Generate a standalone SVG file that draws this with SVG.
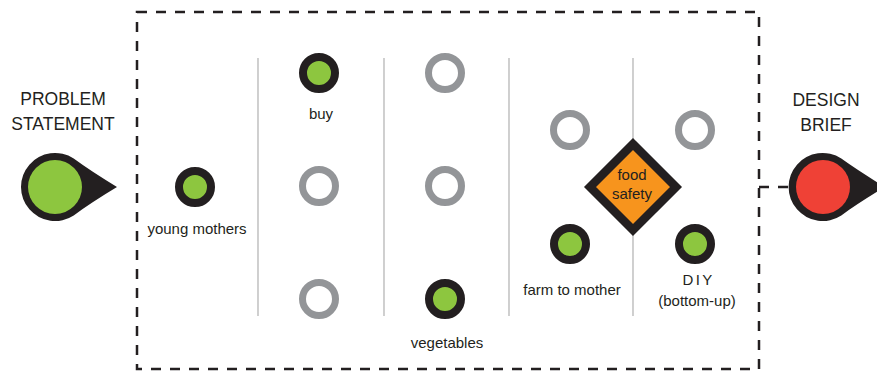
<svg xmlns="http://www.w3.org/2000/svg" width="877" height="372" viewBox="0 0 877 372">
<style>
text{font-family:"Liberation Sans",Arial,sans-serif;fill:#231f20;text-anchor:middle}
.big{font-size:17.5px}
.lbl{font-size:15px}
.on{fill:#8dc63f;stroke:#231f20;stroke-width:8}
.off{fill:#ffffff;stroke:#939598;stroke-width:7}
.div{stroke:#c4c4c4;stroke-width:1.6;fill:none}
.dash{stroke:#231f20;stroke-width:2.5;fill:none;stroke-dasharray:10 9}
</style>
<rect width="877" height="372" fill="#ffffff"/>
<g id="frame">
<rect class="dash" x="137" y="12" width="622" height="357"/>
</g>
<g id="dividers">
<line class="div" x1="258" y1="58" x2="258" y2="316"/>
<line class="div" x1="384" y1="58" x2="384" y2="316"/>
<line class="div" x1="509" y1="58" x2="509" y2="316"/>
<line class="div" x1="633" y1="58" x2="633" y2="316"/>
</g>
<g id="connectors">
<line class="dash" x1="759" y1="187" x2="792" y2="187" stroke-dasharray="12 10"/>
</g>
<g id="problem-statement">
<text class="big" x="63" y="105">PROBLEM</text>
<text class="big" x="63" y="130">STATEMENT</text>
<path d="M73.7 158.6 Q92 172 117 187 Q92 202 73.7 215.4 A34 34 0 1 1 73.7 158.6 Z" fill="#231f20"/>
<circle cx="55" cy="187" r="27" fill="#8dc63f"/>
</g>
<g id="design-brief">
<text class="big" x="826" y="106">DESIGN</text>
<text class="big" x="826" y="131">BRIEF</text>
<path d="M841.3 158.6 Q860 172 885 187 Q860 202 841.3 215.4 A34 34 0 1 1 841.3 158.6 Z" fill="#231f20"/>
<circle cx="823" cy="187" r="27" fill="#ef4136"/>
</g>
<g id="young-mothers">
<circle class="on" cx="195" cy="187" r="16"/>
<text class="lbl" x="197" y="234">young mothers</text>
</g>
<g id="buy">
<circle class="on" cx="319" cy="73" r="16"/>
<text class="lbl" x="321" y="119">buy</text>
</g>
<g id="col2-mid"><circle class="off" cx="319" cy="186" r="16.5"/></g>
<g id="col2-bottom"><circle class="off" cx="319" cy="299" r="16.5"/></g>
<g id="col3-top"><circle class="off" cx="445" cy="73" r="16.5"/></g>
<g id="col3-mid"><circle class="off" cx="445" cy="186" r="16.5"/></g>
<g id="vegetables">
<circle class="on" cx="445" cy="299" r="16"/>
<text class="lbl" x="447" y="348">vegetables</text>
</g>
<g id="col4-top"><circle class="off" cx="570" cy="130" r="16.5"/></g>
<g id="farm-to-mother">
<circle class="on" cx="570" cy="244" r="16"/>
<text class="lbl" x="572" y="295">farm to mother</text>
</g>
<g id="col5-top"><circle class="off" cx="695" cy="130" r="16.5"/></g>
<g id="diy">
<circle class="on" cx="695" cy="244" r="16"/>
<text class="lbl" x="697" y="285" letter-spacing="-0.8">D I Y</text>
<text class="lbl" x="697" y="306">(bottom-up)</text>
</g>
<g id="food-safety">
<path d="M633 144 L676 187 L633 230 L590 187 Z" fill="#f7941d" stroke="#231f20" stroke-width="8.5" stroke-linejoin="miter"/>
<text class="lbl" x="632" y="180">food</text>
<text class="lbl" x="632" y="199">safety</text>
</g>
</svg>
